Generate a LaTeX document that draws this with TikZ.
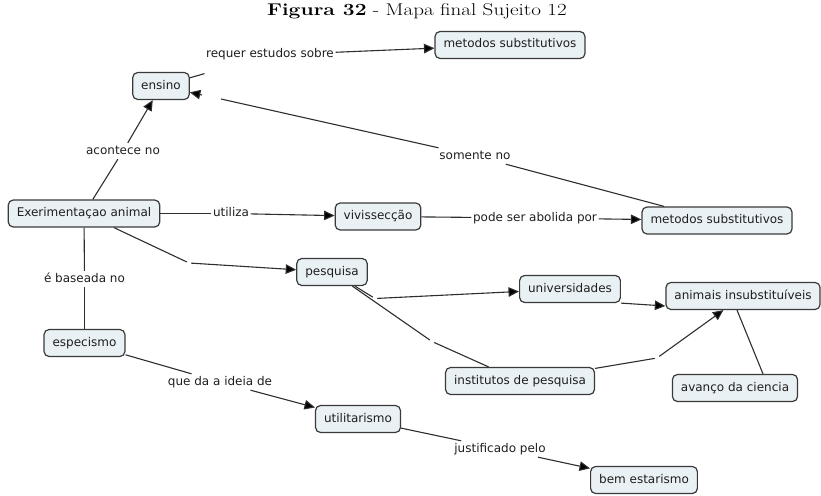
\documentclass[tikz,border=0pt]{standalone}
\usepackage{fontspec}
\newfontfamily\mapfont{DejaVu Sans}
\usetikzlibrary{arrows.meta}

\definecolor{conceptfill}{HTML}{EAF1F4}
\definecolor{conceptline}{HTML}{3A3A3A}
\definecolor{linkline}{HTML}{2E2E2E}
\definecolor{inkdark}{HTML}{1E1E1E}

\begin{document}
\begin{tikzpicture}[x=1pt,y=-1pt,
  concept/.style={draw=conceptline, line width=1.2pt, fill=conceptfill,
    rounded corners=5pt, font=\mapfont\fontsize{12}{14}\selectfont,
    text=inkdark, inner xsep=8.5pt, inner ysep=0pt,
    text height=9pt, text depth=3pt, minimum height=27pt},
  linkphrase/.style={font=\mapfont\fontsize{12}{14}\selectfont, text=inkdark,
    inner xsep=1.5pt, inner ysep=2pt, text height=9pt, text depth=3pt},
  blank/.style={inner sep=0pt, minimum size=4pt},
  conn/.style={draw=linkline, line width=1.1pt},
  arrow/.style={conn, -{Triangle[length=10.5pt,width=9.5pt,fill=black]}},
]
\useasboundingbox (0,0) rectangle (821,495);

% caption
\node (title) at (417,11) {\scalebox{1.24}[1]{\fontsize{17}{20}\selectfont
  \textbf{Figura \oldstylenums{32}} - Mapa final Sujeito \oldstylenums{12}}};

% concepts
\node[concept] (ensino) at (161,86)    {ensino};
\node[concept] (mst)    at (510,45)    {metodos substitutivos};
\node[concept] (exp)    at (84,213.5)  {Exerimentaçao animal};
\node[concept] (viv)    at (378,216.5) {vivissecção};
\node[concept] (msr)    at (717,220.5) {metodos substitutivos};
\node[concept] (pesq)   at (332,272)   {pesquisa};
\node[concept] (univ)   at (570,289)   {universidades};
\node[concept] (anim)   at (743,296)   {animais insubstituíveis};
\node[concept] (espec)  at (84.5,343)  {especismo};
\node[concept] (inst)   at (520,381)   {institutos de pesquisa};
\node[concept] (avan)   at (735,388)   {avanço da ciencia};
\node[concept] (util)   at (358,419)   {utilitarismo};
\node[concept] (bem)    at (644,480)   {bem estarismo};

% linking phrases
\node[linkphrase, inner ysep=13.5pt] (req) at (270,55) {requer estudos sobre};
\node[linkphrase] (acon)  at (123,151) {acontece no};
\node[linkphrase] (som)   at (475,156) {somente no};
\node[linkphrase] (uti)   at (231,213.5) {utiliza};
\node[linkphrase] (pode)  at (535,218) {pode ser abolida por};
\node[linkphrase] (base)  at (84.5,279)  {é baseada no};
\node[linkphrase] (ideia) at (220,382) {que da a ideia de};
\node[linkphrase] (just)  at (500,449) {justificado pelo};

% empty linking phrases
\node[blank] (g1) at (189,263) {};
\node[blank] (g2) at (375,298.5) {};
\node[blank] (g3) at (432,341.5) {};
\node[blank] (g4) at (657,358) {};

% loose ends of the broken "somente no" connector
\coordinate (sgA) at (202,95);
\coordinate (sgB) at (221,99);

% connectors
\draw[conn]  (ensino) -- (req);
\draw[arrow] (req) -- (mst);

\draw[conn]  (exp) -- (acon);
\draw[arrow] (acon) -- (ensino);

\draw[conn]  (msr) -- (som);
\draw[conn]  (som) -- (sgB);
\draw[arrow] (sgA) -- (ensino);

\draw[conn]  (exp) -- (uti);
\draw[arrow] (uti) -- (viv);

\draw[conn]  (viv) -- (pode);
\draw[arrow] (pode) -- (msr);

\draw[conn]  (exp) -- (g1);
\draw[arrow] (g1) -- (pesq);

\draw[conn]  (pesq) -- (g2);
\draw[arrow] (g2) -- (univ);

\draw[conn]  (pesq) -- (g3);
\draw[conn]  (g3) -- (inst);

\draw[arrow] (univ.south east) -- ([yshift=-10pt]anim.west);

\draw[conn]  (inst) -- (g4);
\draw[arrow] (g4) -- (anim);

\draw[conn]  ([xshift=-6pt]anim.south) -- ([xshift=28pt]avan.north);

\draw[conn]  (exp) -- (base);
\draw[conn]  (base) -- (espec);

\draw[conn]  (espec) -- (ideia);
\draw[arrow] (ideia) -- (util);

\draw[conn]  (util) -- (just);
\draw[arrow] (just) -- (bem);
\end{tikzpicture}
\end{document}
